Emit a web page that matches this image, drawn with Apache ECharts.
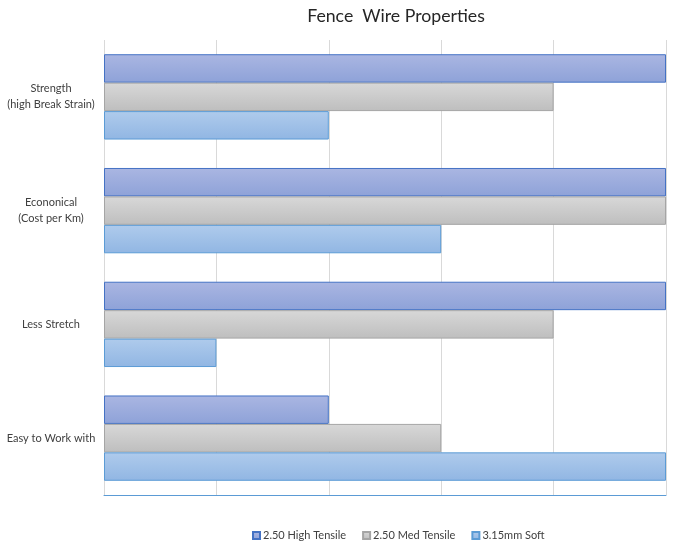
<!DOCTYPE html>
<html><head><meta charset="utf-8">
<script src="https://cdn.jsdelivr.net/npm/echarts@6/dist/echarts.min.js"></script>
<style>html,body{margin:0;padding:0;background:#fff}#c{width:679px;height:554px}</style>
</head><body><div id="c"></div>
<script>
var categories = ['Strength\n(high Break Strain)', 'Econonical\n(Cost per Km)', 'Less Stretch', 'Easy to Work with'];
var seriesNames = ['2.50 High Tensile', '2.50 Med Tensile', '3.15mm Soft'];
var highTensile = [5, 5, 5, 2];
var medTensile = [4, 5, 4, 3];
var softWire = [2, 3, 1, 5];

var FONT = 'Lato';
function grad(a, b) {
  return new echarts.graphic.LinearGradient(0, 0, 0, 1, [{offset: 0, color: a}, {offset: 1, color: b}]);
}
var styles = [
  {color: grad('#aab6e2', '#8ea2d8'), borderColor: '#4472c4', borderWidth: 1},
  {color: grad('#d8d8d8', '#bebebe'), borderColor: '#a5a5a5', borderWidth: 1},
  {color: grad('#afcbec', '#91b6e3'), borderColor: '#5b9bd5', borderWidth: 1}
];
var data = [highTensile, medTensile, softWire];
var chart = echarts.init(document.getElementById('c'), null, {renderer: 'canvas'});
chart.setOption({
  animation: false,
  backgroundColor: '#fff',
  title: {
    text: 'Fence  Wire Properties', left: 391, textAlign: 'center', top: 2,
    textStyle: {fontFamily: FONT, fontSize: 17.7, fontWeight: 'normal', color: '#262626'}
  },
  legend: {
    data: seriesNames, bottom: 8, left: 247, itemGap: 16,
    icon: 'rect', itemWidth: 7, itemHeight: 7,
    textStyle: {fontFamily: FONT, fontSize: 11, color: '#404040', padding: [0, 0, 0, -2]}
  },
  grid: {left: 104, right: 13, top: 40, bottom: 59, containLabel: false},
  xAxis: {
    type: 'value', min: 0, max: 5, interval: 1,
    axisLabel: {show: false}, axisTick: {show: false},
    axisLine: {show: true, lineStyle: {color: '#5b9bd5', width: 1}},
    splitLine: {show: true, lineStyle: {color: '#d9d9d9', width: 1}}
  },
  yAxis: {
    type: 'category', data: categories, inverse: true,
    axisLine: {show: false}, axisTick: {show: false},
    axisLabel: {margin: 53, align: 'center', fontFamily: FONT, fontSize: 11, color: '#404040', lineHeight: 16}
  },
  series: data.map(function (d, i) {
    return {
      name: seriesNames[i], type: 'bar', data: d,
      barGap: '0%', barCategoryGap: '25%',
      itemStyle: styles[i]
    };
  })
});
</script></body></html>
